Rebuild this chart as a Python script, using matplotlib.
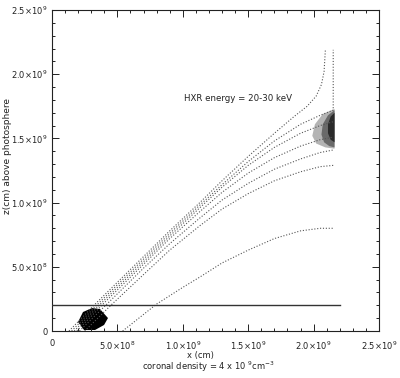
import matplotlib
matplotlib.use("Agg")
import matplotlib.pyplot as plt
from matplotlib.ticker import MultipleLocator, FixedLocator

# ---- data (units of 1e9 cm) ----
line_A_x = [0.13, 0.33, 0.70, 0.90, 1.13, 1.30, 1.50, 1.70, 1.85, 1.95, 2.02, 2.06, 2.08, 2.09]
line_A_z = [0.00, 0.21, 0.58, 0.78, 1.00, 1.17, 1.36, 1.54, 1.67, 1.75, 1.83, 1.92, 2.02, 2.19]
line_B_x = [0.15, 0.35, 0.70, 0.90, 1.13, 1.30, 1.50, 1.70, 1.90, 2.05, 2.15, 2.15]
line_B_z = [0.00, 0.21, 0.56, 0.76, 0.98, 1.14, 1.32, 1.48, 1.61, 1.68, 1.72, 2.19]
line_C_x = [0.17, 0.37, 0.70, 0.90, 1.13, 1.30, 1.50, 1.70, 1.90, 2.05, 2.15]
line_C_z = [0.00, 0.21, 0.54, 0.74, 0.96, 1.12, 1.29, 1.43, 1.54, 1.60, 1.63]
line_D_x = [0.19, 0.39, 0.70, 0.90, 1.13, 1.30, 1.50, 1.70, 1.90, 2.05, 2.15]
line_D_z = [0.00, 0.21, 0.52, 0.72, 0.93, 1.08, 1.23, 1.35, 1.44, 1.49, 1.51]
line_E_x = [0.21, 0.42, 0.70, 0.90, 1.13, 1.30, 1.50, 1.70, 1.90, 2.05, 2.15]
line_E_z = [0.00, 0.21, 0.49, 0.68, 0.88, 1.02, 1.15, 1.26, 1.34, 1.39, 1.41]
line_F_x = [0.25, 0.46, 0.70, 0.90, 1.13, 1.30, 1.50, 1.70, 1.90, 2.05, 2.15]
line_F_z = [0.00, 0.21, 0.44, 0.63, 0.82, 0.95, 1.07, 1.17, 1.24, 1.28, 1.29]
line_G_x = [0.54, 0.80, 1.00, 1.13, 1.30, 1.50, 1.70, 1.90, 2.05, 2.15]
line_G_z = [0.00, 0.21, 0.34, 0.42, 0.53, 0.63, 0.72, 0.78, 0.80, 0.80]
field_lines = [(line_A_x, line_A_z), (line_B_x, line_B_z), (line_C_x, line_C_z),
               (line_D_x, line_D_z), (line_E_x, line_E_z), (line_F_x, line_F_z),
               (line_G_x, line_G_z)]

chromo_x = [0.0, 2.2]
chromo_z = [0.205, 0.205]

foot_x = [0.199, 0.237, 0.306, 0.367, 0.428, 0.398, 0.329, 0.245]
foot_z = [0.070, 0.148, 0.179, 0.171, 0.101, 0.047, 0.008, 0.008]

top_light_x = [2.16, 2.07, 2.01, 1.99, 2.02, 2.09, 2.16]
top_light_z = [1.73, 1.69, 1.61, 1.52, 1.46, 1.43, 1.42]
top_mid_x = [2.16, 2.11, 2.07, 2.06, 2.08, 2.12, 2.16]
top_mid_z = [1.72, 1.68, 1.61, 1.53, 1.47, 1.44, 1.43]
top_dark_x = [2.16, 2.13, 2.11, 2.11, 2.13, 2.16]
top_dark_z = [1.70, 1.67, 1.61, 1.54, 1.49, 1.47]

x_major = [0, 0.5, 1.0, 1.5, 2.0, 2.5]
x_labels = ["0", "5.0×10$^8$", "1.0×10$^9$", "1.5×10$^9$", "2.0×10$^9$", "2.5×10$^9$"]
y_major = [0, 0.5, 1.0, 1.5, 2.0, 2.5]
y_labels = ["0", "5.0×10$^8$", "1.0×10$^9$", "1.5×10$^9$", "2.0×10$^9$", "2.5×10$^9$"]

plt.rcParams['font.family'] = ['DejaVu Sans']
plt.rcParams['mathtext.fontset'] = 'dejavusans'

fig = plt.figure(figsize=(4.0, 3.78), dpi=100)
ax = fig.add_axes([0.13, 0.1243, 0.8175, 0.8492])

ax.fill(top_light_x, top_light_z, color="#b4b4b4", lw=0, zorder=1)
ax.fill(top_mid_x, top_mid_z, color="#6a6a6a", lw=0, zorder=1)
ax.fill(top_dark_x, top_dark_z, color="#2a2a2a", lw=0, zorder=1)
ax.fill(foot_x, foot_z, color="black", lw=0, zorder=1)

for xs, zs in field_lines:
    ax.plot(xs, zs, color="#555555", lw=0.8, linestyle=(0, (1, 1.6)), zorder=2)

ax.plot(chromo_x, chromo_z, color="#333333", lw=1.0, zorder=3)

ax.text(1.01, 1.79, "HXR energy = 20-30 keV", fontsize=6.2, color="#222222")

ax.set_xlim(0, 2.5)
ax.set_ylim(0, 2.5)
ax.xaxis.set_major_locator(FixedLocator(x_major))
ax.yaxis.set_major_locator(FixedLocator(y_major))
ax.xaxis.set_minor_locator(MultipleLocator(0.1))
ax.yaxis.set_minor_locator(MultipleLocator(0.1))
ax.set_xticklabels(x_labels)
ax.set_yticklabels(y_labels)
ax.tick_params(which="both", direction="in", top=True, right=True, labelsize=6,
               colors="#222222", width=0.7)
ax.tick_params(which="major", length=5, pad=3)
ax.tick_params(axis="x", which="major", pad=6)
ax.tick_params(which="minor", length=2.5)
for s in ax.spines.values():
    s.set_linewidth(0.8)
    s.set_color("#222222")

fig.text(0.50, 0.052, "x (cm)", fontsize=6, ha="center", color="#222222")
fig.text(0.52, 0.020, "coronal density = 4 x 10 $^9$cm$^{-3}$", fontsize=6, ha="center",
         color="#222222")
fig.text(0.020, 0.587, "z(cm) above photosphere", fontsize=6.5, rotation=90,
         va="center", ha="center", color="#222222")

fig.savefig("out.png", dpi=100)
